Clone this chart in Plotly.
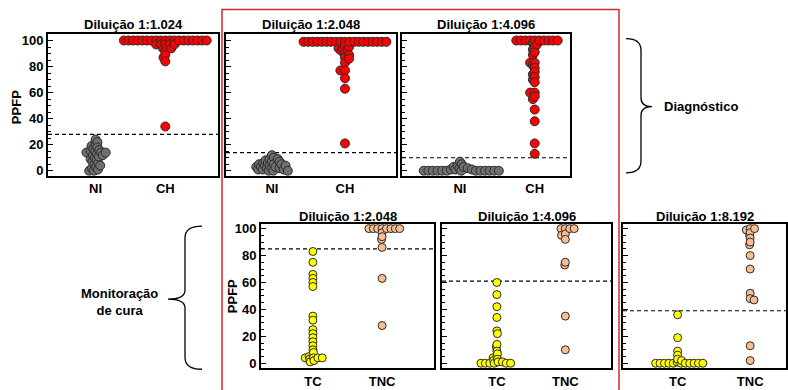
import math
import plotly.graph_objects as go

W, H = 788, 390
FONT = "Liberation Sans, Arial, sans-serif"

# ---- PPFP values per group and dilution ----
ni_1024 = [24, 22, 20, 19, 18, 17, 16, 15, 15, 14, 14, 14, 13, 12, 12, 11, 10, 9, 8, 7, 6, 5, 4, 3, 2, 1, 0, 0]
ch_1024 = [100] * 19 + [97] * 5 + [95, 94, 94, 92, 89, 87, 84, 34]

ni_2048 = [12, 10, 9, 9, 8, 7, 7, 6, 6, 5, 5, 5, 4, 4, 4, 3, 3, 3, 2, 2, 2, 1, 1, 1, 0, 0, 0]
ch_2048 = [99] * 19 + [96, 95, 94, 94, 93, 92, 90, 89, 87, 86, 83, 77, 77, 71, 63, 21]

ni_4096 = [7, 5, 4, 3, 3, 2, 2, 1, 1, 1] + [0] * 13
ch_4096 = [100] * 10 + [98, 97, 95, 93, 91, 89, 83, 83, 81, 79, 76, 74, 72, 70, 68,
                        60, 60, 57, 55, 47, 38, 21, 13]

tc_2048 = [83, 75, 66, 63, 60, 57, 35, 32, 25, 22, 19, 16, 13, 10, 8, 6, 5, 4, 4, 4, 4, 3, 2, 1]
tnc_2048 = [100] * 8 + [97, 94, 92, 86, 63, 28]

tc_4096 = [60, 51, 42, 34, 24, 22, 14, 12, 9, 7, 5, 4, 3, 2, 1, 1] + [0] * 6
tnc_4096 = [100] * 4 + [96, 95, 92, 75, 73, 35, 10]

tc_8192 = [36, 19, 9, 6, 3, 2, 1] + [0] * 11
tnc_8192 = [100, 100, 99, 97, 95, 93, 90, 88, 80, 70, 52, 48, 47, 13, 2]

# cut-off values (dashed lines)
cutoffs_diag = [28, 14, 10]
cutoffs_cure = [85, 61, 39]

titles_diag = ["Diluição 1:1.024", "Diluição 1:2.048", "Diluição 1:4.096"]
titles_cure = ["Diluição 1:2.048", "Diluição 1:4.096", "Diluição 1:8.192"]
groups_diag = ["NI", "CH"]
groups_cure = ["TC", "TNC"]

GRAY, RED, YELLOW, PEACH = "#6f6f6f", "#ff0000", "#ffff00", "#f8bd90"
OUTLINE = "#2a2a2a"


def swarm_offsets(vals, ppu_y, d, k):
    """Beeswarm offsets (pixels) so that markers do not pile up."""
    order = sorted(range(len(vals)), key=lambda i: -vals[i])
    placed = []
    offs = [0.0] * len(vals)
    for i in order:
        y = vals[i] * ppu_y
        near = []
        for xj, yj in placed:
            dy = k * (y - yj)
            if abs(dy) < d:
                near.append((xj, math.sqrt(d * d - dy * dy)))
        cands = [0.0]
        for xj, r in near:
            cands += [xj - r, xj + r]
        bal = sum(x for x, _ in placed)
        cands.sort(key=lambda c: (round(abs(c), 4), c if bal > 0 else -c))
        for c in cands:
            if all(abs(c - xj) >= r - 1e-6 for xj, r in near):
                offs[i] = c
                placed.append((c, y))
                break
    return offs


panels = [
    dict(title=titles_diag[0], box=(48, 218, 32, 176), xr=(0.317, 2.756), yr=(-3.8, 105.3),
         cats=groups_diag, series=(ni_1024, ch_1024), colors=(GRAY, RED), cut=cutoffs_diag[0],
         labels=True, size=9, d=4.6, ty=23),
    dict(title=titles_diag[1], box=(226, 396, 32, 176), xr=(0.372, 2.698), yr=(-3.8, 105.3),
         cats=groups_diag, series=(ni_2048, ch_2048), colors=(GRAY, RED), cut=cutoffs_diag[1],
         labels=False, size=9, d=4.6, ty=23),
    dict(title=titles_diag[2], box=(402, 570, 32, 176), xr=(0.225, 2.472), yr=(-3.8, 105.3),
         cats=groups_diag, series=(ni_4096, ch_4096), colors=(GRAY, RED), cut=cutoffs_diag[2],
         labels=False, size=9, d=4.6, ty=23),
    dict(title=titles_cure[0], box=(261, 434, 224.5, 371), xr=(0.25, 2.75), yr=(-3.7, 103.7),
         cats=groups_cure, series=(tc_2048, tnc_2048), colors=(YELLOW, PEACH), cut=cutoffs_cure[0],
         labels=True, size=8, d=4.4, ty=217),
    dict(title=titles_cure[1], box=(442, 611, 224.5, 371), xr=(0.198, 2.667), yr=(-3.7, 103.7),
         cats=groups_cure, series=(tc_4096, tnc_4096), colors=(YELLOW, PEACH), cut=cutoffs_cure[1],
         labels=False, size=8, d=4.4, ty=217),
    dict(title=titles_cure[2], box=(623, 786, 224.5, 371), xr=(0.247, 2.494), yr=(-3.7, 103.7),
         cats=groups_cure, series=(tc_8192, tnc_8192), colors=(YELLOW, PEACH), cut=cutoffs_cure[2],
         labels=False, size=8, d=4.4, ty=217),
]


def fx(p):
    return p / W


def fy(p):
    return 1 - p / H


fig = go.Figure()
layout = dict(
    width=W, height=H, margin=dict(l=0, r=0, t=0, b=0),
    paper_bgcolor="white", plot_bgcolor="rgba(0,0,0,0)",
    showlegend=False, font=dict(family=FONT, color="black"),
    shapes=[], annotations=[],
)

bold = dict(family=FONT, size=13, color="black", weight="bold")

for n, p in enumerate(panels, start=1):
    sfx = "" if n == 1 else str(n)
    x0, x1, y0, y1 = p["box"]
    ppu_x = (x1 - x0) / (p["xr"][1] - p["xr"][0])
    ppu_y = (y1 - y0) / (p["yr"][1] - p["yr"][0])
    for gi, (vals, col) in enumerate(zip(p["series"], p["colors"])):
        offs = swarm_offsets(vals, ppu_y, p["d"], 1.6)
        pts = sorted(zip(offs, vals), key=lambda t: t[0])
        fig.add_trace(go.Scatter(
            x=[gi + 1 + o / ppu_x for o, _ in pts], y=[v for _, v in pts],
            mode="markers", xaxis="x" + sfx, yaxis="y" + sfx, hoverinfo="skip",
            marker=dict(size=p["size"], color=col, line=dict(color=OUTLINE, width=1)),
        ))
    layout["xaxis" + sfx] = dict(
        domain=[fx(x0), fx(x1)], range=list(p["xr"]), anchor="y" + sfx,
        tickvals=[1, 2], ticktext=p["cats"], ticks="", showgrid=False, zeroline=False,
        showline=True, mirror=True, linecolor="black", linewidth=2, tickfont=bold,
        fixedrange=True,
    )
    layout["yaxis" + sfx] = dict(
        domain=[fy(y1), fy(y0)], range=list(p["yr"]), anchor="x" + sfx,
        tickvals=[0, 20, 40, 60, 80, 100], ticks="inside", ticklen=5, tickwidth=1,
        tickcolor="black", showticklabels=p["labels"], tickfont=bold,
        minor=dict(dtick=5, ticks="inside", ticklen=3, tickwidth=1, tickcolor="black"),
        showgrid=False, zeroline=False, showline=True, mirror=True,
        linecolor="black", linewidth=2, fixedrange=True,
    )
    layout["shapes"].append(dict(
        type="line", xref="x" + sfx + " domain", yref="y" + sfx, x0=0, x1=1,
        y0=p["cut"], y1=p["cut"], layer="below",
        line=dict(color="black", width=1.2, dash="4px,3px"),
    ))
    layout["annotations"].append(dict(
        text=p["title"], xref="paper", yref="paper", x=fx((x0 + x1) / 2), y=fy(p["ty"]),
        xanchor="center", yanchor="middle", showarrow=False, font=bold,
    ))

# y-axis titles
for xp, yp in [(16.5, 107), (232, 298)]:
    layout["annotations"].append(dict(
        text="PPFP", xref="paper", yref="paper", x=fx(xp), y=fy(yp), textangle=-90,
        xanchor="center", yanchor="middle", showarrow=False, font=bold,
    ))


def brace(xe, xs, xt, yt, ym, yb, r=12, rm=9):
    """Curly brace: ends at xe, spine at xs, tip at xt."""
    pts = [
        f"M {fx(xe)},{fy(yt)}",
        f"Q {fx(xs)},{fy(yt)} {fx(xs)},{fy(yt + r)}",
        f"L {fx(xs)},{fy(ym - rm)}",
        f"Q {fx(xs)},{fy(ym)} {fx(xt)},{fy(ym)}",
        f"Q {fx(xs)},{fy(ym)} {fx(xs)},{fy(ym + rm)}",
        f"L {fx(xs)},{fy(yb - r)}",
        f"Q {fx(xs)},{fy(yb)} {fx(xe)},{fy(yb)}",
    ]
    return dict(type="path", xref="paper", yref="paper", path=" ".join(pts),
                line=dict(color="black", width=1.3), layer="above")


layout["shapes"].append(brace(626, 641, 652, 37, 106, 173))
layout["shapes"].append(brace(202, 185, 168, 227, 301, 372))

# frame around the higher dilutions
layout["shapes"].append(dict(
    type="rect", xref="paper", yref="paper", x0=fx(222), x1=fx(619), y0=fy(400), y1=fy(7.5),
    line=dict(color="#d42a2a", width=1.5), layer="above",
))

layout["annotations"].append(dict(
    text="Diagnóstico", xref="paper", yref="paper", x=fx(662), y=fy(106),
    xanchor="left", yanchor="middle", showarrow=False, font=bold,
))
layout["annotations"].append(dict(
    text="Monitoração<br>de cura", xref="paper", yref="paper", x=fx(119), y=fy(303.5),
    xanchor="center", yanchor="middle", showarrow=False, font=bold,
))

fig.update_layout(**layout)
fig.write_html("out.html")
